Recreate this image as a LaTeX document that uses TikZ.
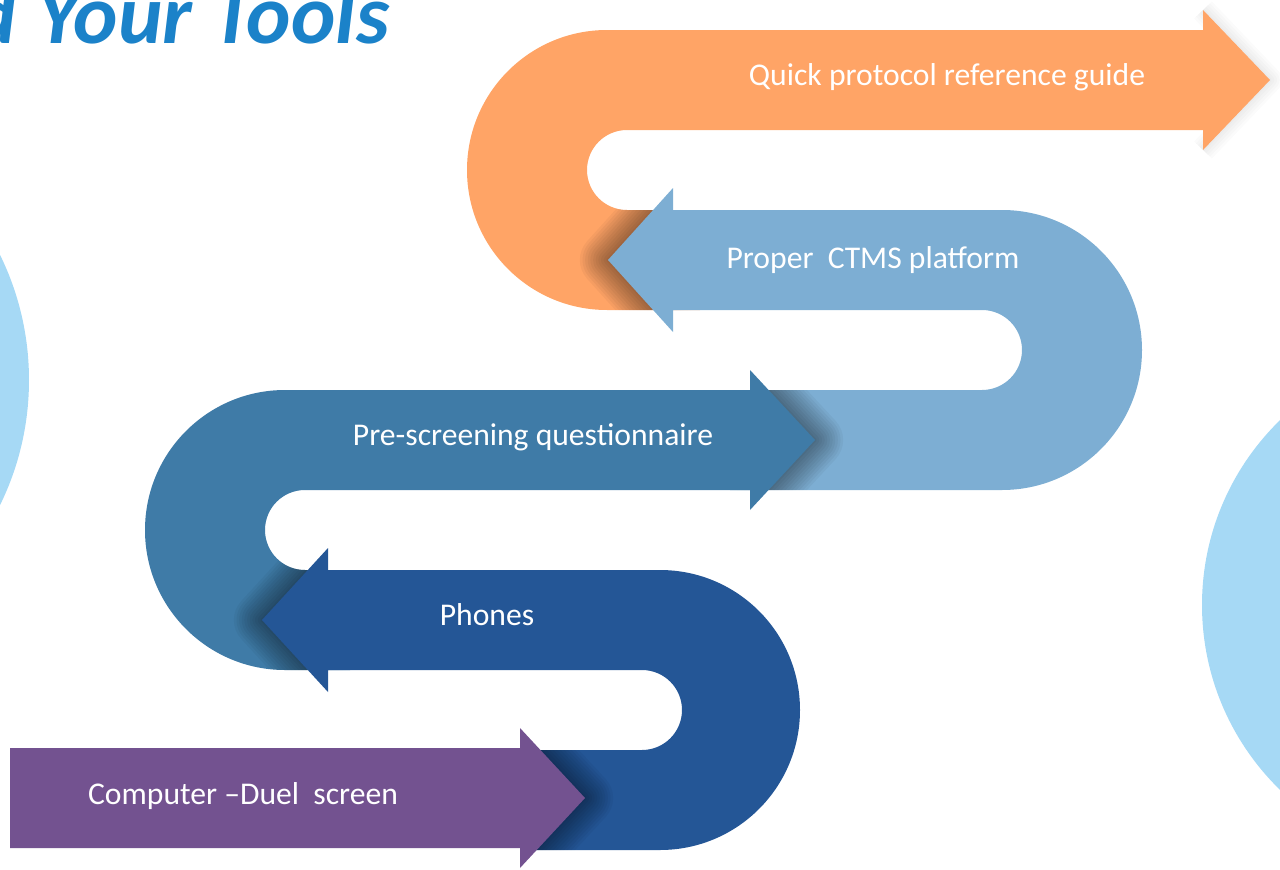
\documentclass[tikz,border=0pt]{standalone}
\usepackage{fontspec}
\setmainfont{Carlito}
\definecolor{naranja}{HTML}{FFA466}
\definecolor{celeste}{HTML}{7DAED3}
\definecolor{azulmedio}{HTML}{3F7BA7}
\definecolor{azuloscuro}{HTML}{245696}
\definecolor{morado}{HTML}{735290}
\definecolor{circulo}{HTML}{A6D9F5}
\definecolor{titulo}{HTML}{1B82C9}
\begin{document}
\begin{tikzpicture}[x=0.2mm, y=-0.2mm,
    etiqueta/.style={text=white, inner sep=0pt, font=\fontsize{18}{20}\selectfont},
    fondo/.style={fill=circulo},
    sombra/.style={draw=black, line join=round, opacity=0.04}
  ]
    \useasboundingbox (0,0) rectangle (1280,870);
    \clip (0,0) rectangle (1280,870);

    % circulos del fondo
    \fill[fondo] (-255,380) circle[radius=284];
    \fill[fondo] (1460,605) circle[radius=258];

    % titulo
    \node[anchor=base east, inner sep=0pt, text=titulo,
      font=\fontsize{48}{52}\selectfont\bfseries\itshape] (titulo) at (390,43) {d Your Tools};

    % cinta naranja
    \foreach \w in {2,5,...,14}
      \draw[sombra, opacity=0.015, line width=\w] (1203,150) -- (1270,80) -- (1203,10);
    \fill[naranja, save path=\pnaranja] (1203,30) -- (607,30) arc[start angle=270, end angle=90, radius=140]
      -- (700,310) -- (700,210) -- (627,210) arc[start angle=90, end angle=270, radius=40]
      -- (1203,130) -- (1203,150) -- (1270,80) -- (1203,10) -- cycle;
    \node[etiqueta] (guia) at (947,77) {Quick protocol reference guide};

    % cinta celeste
    \begin{scope}
      \clip[use path=\pnaranja];
      \foreach \w in {2,5,...,32}
        \draw[sombra, line width=\w] (673,332) -- (608,260) -- (673,188);
    \end{scope}
    \fill[celeste, save path=\pceleste] (673,210) -- (1002,210) arc[start angle=-90, end angle=90, radius=140]
      -- (730,490) -- (730,390) -- (982,390) arc[start angle=90, end angle=-90, radius=40]
      -- (673,310) -- (673,332) -- (608,260) -- (673,188) -- cycle;
    \node[etiqueta] (ctms) at (873,260) {Proper\ \ CTMS platform};

    % cinta azul medio
    \begin{scope}
      \clip[use path=\pceleste];
      \foreach \w in {2,5,...,32}
        \draw[sombra, line width=\w] (750,510) -- (815,440) -- (750,370);
    \end{scope}
    \fill[azulmedio, save path=\pmedio] (750,390) -- (285,390) arc[start angle=270, end angle=90, radius=140]
      -- (350,670) -- (350,570) -- (305,570) arc[start angle=90, end angle=270, radius=40]
      -- (750,490) -- (750,510) -- (815,440) -- (750,370) -- cycle;
    \node[etiqueta] (cuestionario) at (533,437) {Pre-screening questionnaire};

    % cinta azul oscuro
    \begin{scope}
      \clip[use path=\pmedio];
      \foreach \w in {2,5,...,32}
        \draw[sombra, line width=\w] (328,692) -- (262,620) -- (328,548);
    \end{scope}
    \fill[azuloscuro, save path=\poscuro] (328,570) -- (660,570) arc[start angle=-90, end angle=90, radius=140]
      -- (530,850) -- (530,750) -- (642,750) arc[start angle=90, end angle=-90, radius=40]
      -- (642,670) -- (328,670) -- (328,692) -- (262,620) -- (328,548) -- cycle;
    \node[etiqueta] (telefonos) at (487,615) {Phones};

    % cinta morada
    \begin{scope}
      \clip[use path=\poscuro];
      \foreach \w in {2,5,...,32}
        \draw[sombra, line width=\w] (520,868) -- (585,798) -- (520,728);
    \end{scope}
    \fill[morado] (10,748) -- (520,748) -- (520,728) -- (585,798) -- (520,868)
      -- (520,848) -- (10,848) -- cycle;
    \node[etiqueta] (computador) at (243,796) {Computer –Duel\ \ screen};
  \end{tikzpicture}
\end{document}
